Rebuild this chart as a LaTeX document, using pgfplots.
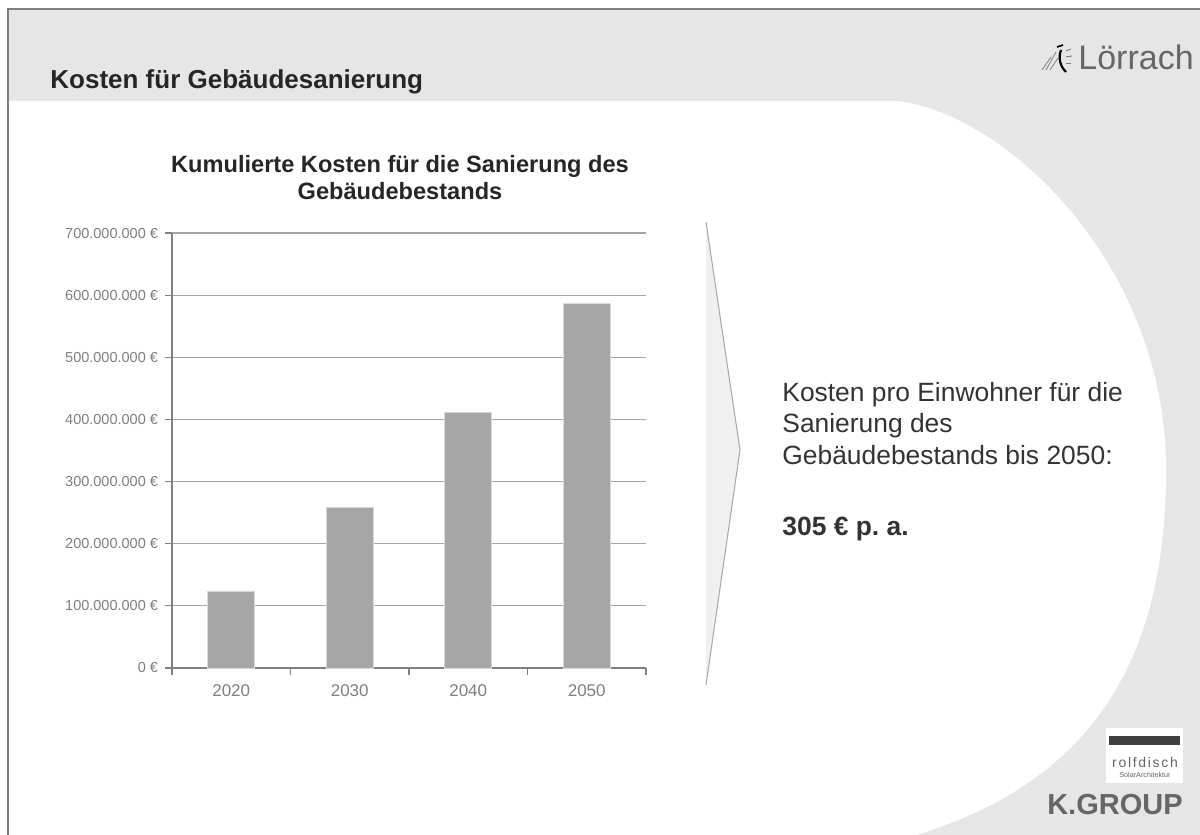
\documentclass[border=0pt]{standalone}
\usepackage{pgfplots}
\pgfplotsset{compat=1.18}
\usepackage{fontspec}
\setmainfont{Liberation Sans}
\definecolor{bg}{HTML}{E6E6E6}
\definecolor{framec}{HTML}{7F7F7F}
\definecolor{barc}{HTML}{A6A6A6}
\definecolor{baredge}{HTML}{D9D9D9}
\definecolor{gridc}{HTML}{A6A6A6}
\definecolor{axisc}{HTML}{808080}
\definecolor{ticklab}{HTML}{7F7F7F}
\definecolor{txt}{HTML}{262626}
\definecolor{txtb}{HTML}{333333}
\definecolor{arrowfill}{HTML}{F0F0F0}
\definecolor{arrowline}{HTML}{A6A6A6}
\definecolor{logo}{HTML}{666666}
\begin{document}
\frenchspacing
\begin{tikzpicture}
\useasboundingbox (0,0) rectangle (600pt,-417.5pt);
\begin{scope}[x=0.5pt,y=-0.5pt]
\fill[white] (0,0) rectangle (1200,835);
\fill[bg] (8,9) rectangle (1200,835);
\fill[white] (8,101) -- (895,101) .. controls (1000,110) and (1166,260) .. (1166,470) .. controls (1166,650) and (1100,780) .. (913,836) -- (8,836) -- cycle;
\draw[framec, line width=1pt] (8,836) -- (8,9) -- (1200,9);
% title
\node[anchor=base west, inner sep=0, font=\bfseries\fontsize{13}{15}\selectfont, text=txt] at (50,88) {Kosten für Gebäudesanierung};
% Loerrach logo
\node[anchor=base west, inner sep=0, font=\fontsize{17}{20}\selectfont, text=logo] at (1078,69) {Lörrach};
\draw[black, line width=1.1pt] (1061,50) .. controls (1058,58) and (1060,66) .. (1066,72);
\draw[gray, line width=0.4pt] (1046,70) -- (1056,52);
\draw[gray, line width=0.4pt] (1042,70) -- (1051,57);
\draw[gray, line width=0.4pt] (1050,70) -- (1058,58);
\draw[gray, line width=0.5pt] (1066,51) -- (1071,49);
\draw[gray, line width=0.5pt] (1066,57) -- (1072,56);
\draw[gray, line width=0.5pt] (1066,63) -- (1071,63);
\draw[black, line width=0.8pt] (1057,47) -- (1063,45);
% chart title
\node[anchor=base, inner sep=0, font=\bfseries\fontsize{11.8}{13}\selectfont, text=txt] at (400,172) {Kumulierte Kosten für die Sanierung des};
\node[anchor=base, inner sep=0, font=\bfseries\fontsize{11.8}{13}\selectfont, text=txt] at (400,199) {Gebäudebestands};
% arrow shape
\fill[arrowfill] (706,222) -- (740,450) -- (706,685) -- cycle;
\draw[arrowline, line width=0.5pt] (706,222) -- (740,450) -- (706,685);
% right text
\node[anchor=base west, inner sep=0, font=\fontsize{13.2}{15}\selectfont, text=txtb] at (782,401) {Kosten pro Einwohner für die};
\node[anchor=base west, inner sep=0, font=\fontsize{13.2}{15}\selectfont, text=txtb] at (782,432) {Sanierung des};
\node[anchor=base west, inner sep=0, font=\fontsize{13.2}{15}\selectfont, text=txtb] at (782,464) {Gebäudebestands bis 2050:};
\node[anchor=base west, inner sep=0, font=\bfseries\fontsize{13.2}{15}\selectfont, text=txtb] at (782,535) {305 € p. a.};
% rolfdisch logo
\fill[white] (1106,728) rectangle (1183,783);
\fill[black!75] (1109,736) rectangle (1180,745);
\node[anchor=base, inner sep=0, font=\fontsize{7}{8}\selectfont\addfontfeatures{LetterSpace=12}, text=logo] at (1145,767) {rolfdisch};
\node[anchor=base, inner sep=0, font=\fontsize{3.6}{4}\selectfont, text=logo] at (1145,777) {SolarArchitektur};
\node[anchor=base east, inner sep=0, font=\bfseries\fontsize{14.5}{16}\selectfont, text=logo] at (1183,814) {K.GROUP};
\end{scope}
\begin{axis}[
  at={(86pt,-334pt)}, anchor=south west,
  scale only axis, width=237pt, height=217.5pt,
  xmin=0, xmax=4, ymin=0, ymax=7e8,
  axis x line*=bottom, axis y line*=left,
  axis line style={axisc, line width=0.8pt, -},
  xtick={0,1,2,3,4}, xticklabels={},
  extra x ticks={0.5,1.5,2.5,3.5},
  extra x tick labels={2020,2030,2040,2050},
  extra x tick style={major tick length=0pt, grid=none, xticklabel style={yshift=-5pt}},
  ytick={0,100000000,200000000,300000000,400000000,500000000,600000000,700000000},
  yticklabels={0 €,100.000.000 €,200.000.000 €,300.000.000 €,400.000.000 €,500.000.000 €,600.000.000 €,700.000.000 €},
  scaled y ticks=false,
  ymajorgrids, grid style={gridc, line width=0.6pt},
  tick align=outside, major tick length=3.5pt,
  tick style={axisc, line width=0.6pt},
  yticklabel style={font=\fontsize{7.25}{8}\selectfont, text=ticklab},
  xticklabel style={font=\fontsize{8.5}{10}\selectfont, text=ticklab},
]
\addplot[ybar, bar width=23.5pt, bar shift=0pt, fill=barc, draw=baredge, line width=0.4pt]
  coordinates {(0.5,124000000) (1.5,258000000) (2.5,411000000) (3.5,586000000)};
\end{axis}
\end{tikzpicture}
\end{document}
